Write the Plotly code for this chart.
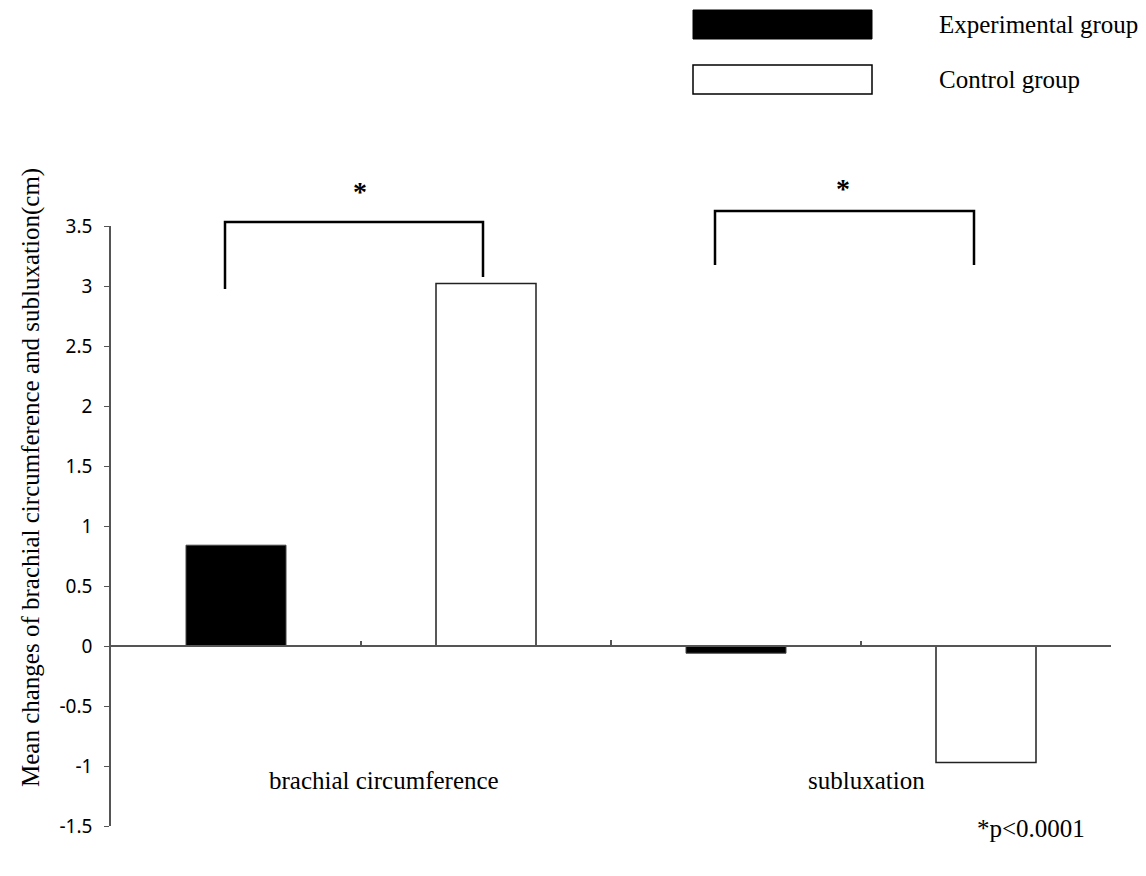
import plotly.graph_objects as go

categories = ["brachial circumference", "subluxation"]
experimental = [0.84, -0.06]
control = [3.02, -0.97]
y_ticks = [-1.5, -1, -0.5, 0, 0.5, 1, 1.5, 2, 2.5, 3, 3.5]
y_tick_labels = ["-1.5", "-1", "-0.5", "0", "0.5", "1", "1.5", "2", "2.5", "3", "3.5"]
series_names = ["Experimental group", "Control group"]
sig_label = "<b>*</b>"
footnote = "*p<0.0001"
y_title = "Mean changes of brachial circumference and subluxation(cm)"

# page has an 8px body margin; plot area in page pixels
OFF = 8
W, H = 1146 - OFF, 876 - OFF
L, R, T, B = 111, 1111, 226, 826
def px(x):
    return (x - L) / (R - L)
def py(y):
    return (B - y) / (B - T)

SERIF = "Liberation Serif, Times New Roman, serif"
SANS = "Noto Sans, Open Sans, sans-serif"
YMIN, YMAX = -1.5, 3.5
zero_pos = (0 - YMIN) / (YMAX - YMIN)

fig = go.Figure()
fig.add_trace(go.Bar(x=categories, y=experimental, name=series_names[0],
                     width=0.2, offset=-0.35, xaxis="x",
                     marker=dict(color="black", line=dict(color="#444", width=1))))
fig.add_trace(go.Bar(x=categories, y=control, name=series_names[1],
                     width=0.2, offset=0.15, xaxis="x2",
                     marker=dict(color="white", line=dict(color="#222", width=1.5))))

shapes = []
shapes.append(dict(type="rect", xref="paper", yref="paper",
                   x0=px(693), x1=px(872), y0=py(39), y1=py(10),
                   fillcolor="black", line=dict(color="black", width=1)))
shapes.append(dict(type="rect", xref="paper", yref="paper",
                   x0=px(693), x1=px(872), y0=py(94), y1=py(65),
                   fillcolor="white", line=dict(color="black", width=1.5)))
def bracket(x0, x1, ytop, yl, yr):
    return dict(type="path", xref="paper", yref="paper",
                path=f"M {px(x0)},{py(yl)} L {px(x0)},{py(ytop)} L {px(x1)},{py(ytop)} L {px(x1)},{py(yr)}",
                line=dict(color="black", width=2.5))
shapes.append(bracket(225, 483, 222, 289, 277))
shapes.append(bracket(715, 974, 211, 265, 265))

def ann(text, x, y, size, anchor="center", angle=0):
    return dict(text=text, xref="paper", yref="paper", x=px(x), y=py(y),
                xanchor=anchor, yanchor="middle", showarrow=False, textangle=angle,
                font=dict(family=SERIF, size=size, color="black"))

annotations = [
    ann(series_names[0], 937, 24, 25, "left"),
    ann(series_names[1], 937, 80, 25, "left"),
    ann(sig_label, 360, 191, 28),
    ann(sig_label, 843, 189, 28),
    ann(categories[0], 384, 780, 25),
    ann(categories[1], 866, 780, 25),
    ann(footnote, 1031, 829, 25),
    ann(y_title, 31, 478, 25, "center", -90),
]

axis_common = dict(type="category", categoryorder="array", categoryarray=categories,
                   range=[-0.5, 1.5], anchor="free", position=zero_pos,
                   showticklabels=False, showgrid=False, zeroline=False,
                   ticks="inside", ticklen=5, tickcolor="#555", tickwidth=1.5)

fig.update_layout(
    width=W, height=H,
    margin=dict(l=L - OFF, r=W - (R - OFF), t=T - OFF, b=H - (B - OFF), pad=0),
    paper_bgcolor="white", plot_bgcolor="white",
    showlegend=False, barmode="overlay",
    shapes=shapes, annotations=annotations,
    xaxis=dict(**axis_common, tickson="boundaries",
               showline=True, linecolor="#555", linewidth=2),
    xaxis2=dict(**axis_common, overlaying="x", showline=False),
    yaxis=dict(range=[YMIN, YMAX], tickvals=y_ticks, ticktext=y_tick_labels,
               ticks="outside", ticklen=5, tickcolor="#555", tickwidth=1,
               showline=True, linecolor="#555", linewidth=1.5,
               showgrid=False, zeroline=False, ticklabelstandoff=8,
               tickfont=dict(family=SANS, size=19, color="black")),
)

fig.write_html("out.html")
